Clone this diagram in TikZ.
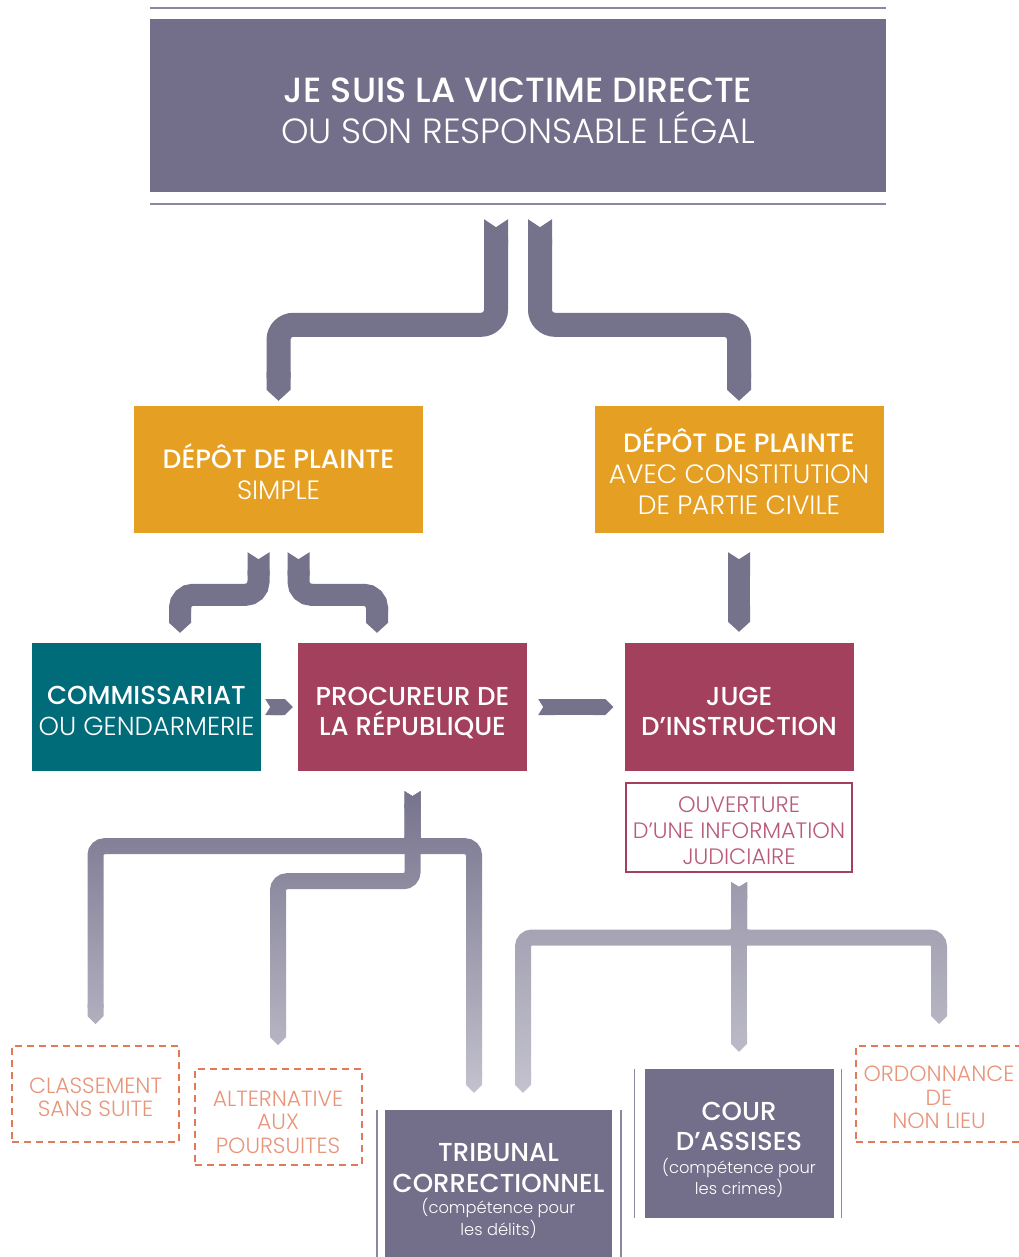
\documentclass[tikz,border=0pt]{standalone}
\usepackage{fontspec}
\usepackage{tikz}
\usetikzlibrary{arrows.meta,backgrounds,fadings}

\IfFontExistsTF{Poppins Light}{\newfontfamily\lightfont{Poppins Light}}{\newfontfamily\lightfont{Poppins}}
\IfFontExistsTF{Poppins Medium}{\newfontfamily\medfont{Poppins Medium}}{\newfontfamily\medfont{Poppins}[FakeBold=1.2]}

\definecolor{victim}{HTML}{736F8A}
\definecolor{rulegray}{HTML}{8A87A0}
\definecolor{pipegray}{HTML}{75728C}
\definecolor{orange}{HTML}{E5A024}
\definecolor{teal}{HTML}{006B79}
\definecolor{raspberry}{HTML}{A3405D}
\definecolor{rasplight}{HTML}{B95B78}
\definecolor{salmon}{HTML}{E07B5A}
\definecolor{salmonlight}{HTML}{E8957A}
\newcommand{\SMALLTXT}[1]{{\lightfont\fontsize{16.3}{22}\selectfont #1}}
\newcommand{\TOP}[1]{\rule{0pt}{#1pt}} % height of first line
\newcommand{\BOT}{\rule[-8pt]{0pt}{8pt}} % depth of last line

\tikzfading[name=pipefade, top color=transparent!100, bottom color=transparent!42]
\tikzfading[name=pipefadeb, top color=transparent!72, bottom color=transparent!42]

\tikzset{
  box/.style={rectangle, inner sep=0pt, align=center, text=white},
  victimbox/.style={box, fill=victim, minimum width=736pt, minimum height=173pt,
    font=\fontsize{35}{41}\selectfont},
  plaintebox/.style={box, fill=orange, minimum width=289pt, minimum height=127pt,
    font=\fontsize{26.5}{31}\selectfont},
  servicebox/.style={box, minimum width=229pt, minimum height=128pt,
    font=\fontsize{26}{30.5}\selectfont},
  courtbox/.style={box, fill=victim, font=\fontsize{26}{31}\selectfont},
  issuebox/.style={box, fill=white, draw=salmon, line width=2pt,
    dash pattern=on 7pt off 5pt, text=salmonlight, minimum width=167pt,
    minimum height=96pt, font=\lightfont\fontsize{22}{23.5}\selectfont},
  rule/.style={draw=rulegray, line width=2.5pt},
  sideline/.style={draw=rulegray, line width=1.5pt},
  bigpipe/.style={draw=pipegray, line width=24pt, rounded corners=15pt,
    {Triangle Cap[reversed,length=8pt]}-{Triangle Cap[length=11pt]}},
  midpipe/.style={draw=pipegray, line width=22pt, rounded corners=13pt,
    {Triangle Cap[reversed,length=7pt]}-{Triangle Cap[length=10pt]}},
  smallpipe/.style={draw=pipegray, line width=16pt, rounded corners=9pt,
    {Triangle Cap[reversed,length=5pt]}-{Triangle Cap[length=8pt]}},
}

\begin{document}
\begin{tikzpicture}[x=1pt,y=1pt]

\useasboundingbox (0,0) rectangle (1018,-1257);

\draw[rule] (150,-8) -- (886,-8); %% top rule
\draw[rule] (150,-204) -- (886,-204); %% bottom rule

\node[victimbox] (victime) at (518,-105.5)
  {\TOP{44}{\medfont JE SUIS LA VICTIME DIRECTE}\\{\lightfont OU SON RESPONSABLE LÉGAL}\BOT};

\node[plaintebox] (simple) at (278.5,-469.5)
  {\TOP{37}{\medfont DÉPÔT DE PLAINTE}\\{\lightfont SIMPLE}\BOT};
\node[plaintebox] (civile) at (739,-469.5)
  {\TOP{35}{\medfont DÉPÔT DE PLAINTE}\\{\lightfont AVEC CONSTITUTION}\\{\lightfont DE PARTIE CIVILE}\BOT};

\node[servicebox, fill=teal] (commis) at (146.5,-707)
  {\TOP{34}{\medfont COMMISSARIAT}\\{\lightfont OU GENDARMERIE}\BOT};
\node[servicebox, fill=raspberry] (proc) at (412.5,-707)
  {\TOP{35}{\medfont PROCUREUR DE}\\{\medfont LA RÉPUBLIQUE}\BOT};
\node[servicebox, fill=raspberry] (juge) at (739,-707)
  {\TOP{35}{\medfont JUGE}\\{\medfont D’INSTRUCTION}\BOT};

\node[box, fill=white, draw=raspberry, line width=2pt, text=rasplight,
  minimum width=226pt, minimum height=89pt,
  font=\lightfont\fontsize{22.3}{26}\selectfont] (ouverture) at (739,-827.5)
  {\TOP{29}OUVERTURE\\D’UNE INFORMATION\\JUDICIAIRE\BOT};

\node[issuebox] (classement) at (95.5,-1094) {\TOP{30}CLASSEMENT\\SANS SUITE\BOT};
\node[issuebox] (alternative) at (278,-1117) {\TOP{33}ALTERNATIVE\\AUX\\POURSUITES\BOT};
\node[issuebox] (ordonnance) at (939,-1094) {\TOP{30}ORDONNANCE\\DE\\NON LIEU\BOT};

\node[courtbox, minimum width=227pt, minimum height=160pt] (tribunal) at (498.5,-1190)
  {\TOP{24}{\medfont TRIBUNAL}\\{\medfont CORRECTIONNEL}\\[-10pt]\SMALLTXT{(compétence pour}\\[-9pt]\SMALLTXT{les délits)}\BOT};
\node[courtbox, minimum width=189pt, minimum height=149pt] (cour) at (739,-1143.5)
  {\TOP{35}{\medfont COUR}\\[-1pt]{\medfont D’ASSISES}\\[-8pt]\SMALLTXT{(compétence pour}\\[-10pt]\SMALLTXT{les crimes)}\BOT};

\draw[sideline] ([xshift=-8pt]tribunal.north west) -- ([xshift=-8pt]tribunal.south west);
\draw[sideline] ([xshift=9pt]tribunal.north east) -- ([xshift=9pt]tribunal.south east);
\draw[sideline] ([xshift=-10pt]cour.north west) -- ([xshift=-10pt]cour.south west);
\draw[sideline] ([xshift=8pt]cour.north east) -- ([xshift=8pt]cour.south east);

\begin{pgfonlayer}{background}
%% victime -> plaintes
\draw[bigpipe] ([xshift=-22pt,yshift=-27pt]victime.south) |- ([yshift=81pt]simple.north)
  -- ([yshift=5pt]simple.north);
\draw[bigpipe] ([xshift=22pt,yshift=-27pt]victime.south) |- ([yshift=81pt]civile.north)
  -- ([yshift=5pt]civile.north);

%% plaintes -> services
\draw[midpipe] ([xshift=-20pt,yshift=-19pt]simple.south) |- ([xshift=33.5pt,yshift=48pt]commis.north)
  -- ([xshift=33.5pt,yshift=10pt]commis.north);
\draw[midpipe] ([xshift=20pt,yshift=-19pt]simple.south) |- ([xshift=-35.5pt,yshift=48pt]proc.north)
  -- ([xshift=-35.5pt,yshift=10pt]proc.north);
\draw[midpipe] ([yshift=-19pt]civile.south) -- ([yshift=11pt]juge.north);

\draw[smallpipe] ([xshift=4pt]commis.east) -- ([xshift=-5pt]proc.west);
\draw[smallpipe] ([xshift=11pt]proc.east) -- ([xshift=-11pt]juge.west);

%% procureur -> suites
\draw[smallpipe] ([yshift=-20pt]proc.south) -- ([yshift=-75pt]proc.south)
  -| ([yshift=21pt]classement.north);
\draw[smallpipe] ([yshift=-20pt]proc.south) -- ([yshift=-75pt]proc.south)
  -| ([xshift=-24.5pt,yshift=17pt]tribunal.north);
\draw[smallpipe] ([yshift=-20pt]proc.south) -- ([yshift=-110pt]proc.south)
  -| ([yshift=23pt]alternative.north);

%% information -> juridictions
\draw[smallpipe] ([yshift=-9pt]ouverture.south) -- ([yshift=-64.5pt]ouverture.south)
  -| ([xshift=24.5pt,yshift=17pt]tribunal.north);
\draw[smallpipe] ([yshift=-9pt]ouverture.south) -- ([yshift=17pt]cour.north);
\draw[smallpipe] ([yshift=-9pt]ouverture.south) -- ([yshift=-64.5pt]ouverture.south)
  -| ([yshift=21pt]ordonnance.north);

\fill[white, path fading=pipefade] (75,-785) rectangle (500,-1100);
\fill[white, path fading=pipefadeb] (505,-878) rectangle (955,-1100);
\end{pgfonlayer}

\end{tikzpicture}
\end{document}
